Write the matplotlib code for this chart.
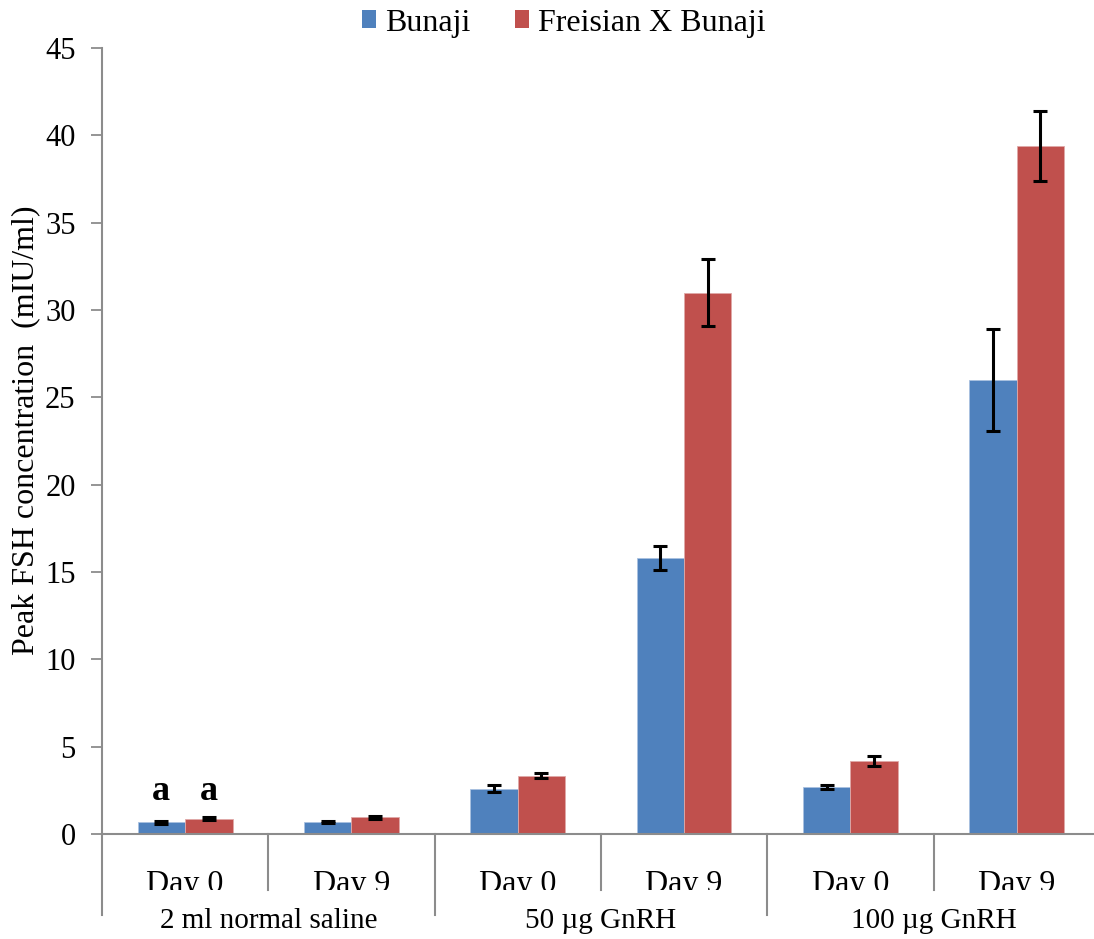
import matplotlib
matplotlib.use("Agg")
import matplotlib.pyplot as plt
from matplotlib.patches import Patch, Rectangle
from matplotlib.lines import Line2D
from matplotlib.transforms import blended_transform_factory
import numpy as np

plt.rcParams['font.family'] = ['Liberation Serif', 'DejaVu Serif']

# Data
days = ["Day 0", "Day 9", "Day 0", "Day 9", "Day 0", "Day 9"]
groups = ["2 ml normal saline", "50 µg GnRH", "100 µg GnRH"]
series_names = ["Bunaji", "Freisian X Bunaji"]
bunaji = [0.67, 0.70, 2.60, 15.80, 2.70, 26.00]
bunaji_err = [0.08, 0.07, 0.22, 0.68, 0.10, 2.90]
cross = [0.88, 0.95, 3.35, 31.00, 4.20, 39.40]
cross_err = [0.09, 0.08, 0.12, 1.90, 0.28, 2.00]
letters = ["a", "a"]

blue = "#4F81BD"
red = "#C0504D"
grey = "#8C8C8C"

fig = plt.figure(figsize=(10.94, 9.39), dpi=100)
ax = fig.add_axes([0.0932, 0.1118, 0.9122, 0.8371])

x = np.arange(len(days))
w = 0.285
ax.bar(x - w / 2, bunaji, w, color=blue, edgecolor="#A9C1E0", linewidth=0.6, zorder=2)
ax.bar(x + w / 2, cross, w, color=red, edgecolor="#E0A9A8", linewidth=0.6, zorder=2)
err_kw = dict(fmt="none", ecolor="black", elinewidth=2.2, capsize=5, capthick=2.2, zorder=3)
ax.errorbar(x - w / 2, bunaji, yerr=bunaji_err, **err_kw)
ax.errorbar(x + w / 2, cross, yerr=cross_err, **err_kw)

# significance letters over the first pair
for xi, txt in zip([x[0] - w / 2, x[0] + w / 2], letters):
    ax.text(xi, 1.95, txt, ha="center", va="baseline", fontsize=26, fontweight="bold")

ax.set_xlim(-0.5, len(days) - 0.5)
ax.set_ylim(0, 45)
ax.set_yticks(np.arange(0, 46, 5))
ax.set_xticks([])
ax.tick_params(axis="y", direction="out", length=8, width=1.3, color=grey,
               labelsize=22, pad=11)
for s in ["top", "right"]:
    ax.spines[s].set_visible(False)
for s in ["left", "bottom"]:
    ax.spines[s].set_color(grey)
    ax.spines[s].set_linewidth(1.5)

ax.set_ylabel("Peak FSH concentration  (mIU/ml)", fontsize=23)
ax.yaxis.set_label_coords(-0.062, 0.514)

# two-level category axis
tr = blended_transform_factory(ax.transData, fig.transFigure)
clip = Rectangle((0, 1 - 890 / 939), 1, 1, transform=fig.transFigure)
for xi, lab in zip(x, days):
    t = ax.text(xi, 1 - 892 / 939, lab, transform=tr, ha="center", va="baseline",
                fontsize=23, clip_on=True)
    t.set_clip_path(clip)
for gi, lab in enumerate(groups):
    ax.text(2 * gi + 0.5, 1 - 928 / 939, lab, transform=tr, ha="center",
            va="baseline", fontsize=21, clip_on=False)

y0 = 1 - 834 / 939
for b in np.arange(-0.5, len(days) + 0.5, 1.0):
    k = int(round(b + 0.5))
    if k == len(days):
        continue
    y_end = 1 - (915 / 939) if k % 2 == 0 else 1 - (890 / 939)
    fig.add_artist(Line2D([b, b], [y0, y_end], transform=tr, color=grey, lw=1.5))

handles = [Patch(facecolor=blue), Patch(facecolor=red)]
fig.legend(handles, series_names, loc="center", bbox_to_anchor=(564 / 1094, 1 - 23 / 939),
           ncol=2, frameon=False, fontsize=23, handlelength=0.42, handleheight=0.5,
           handletextpad=0.3, columnspacing=1.4, borderpad=0)

fig.savefig("out.png", dpi=100)
